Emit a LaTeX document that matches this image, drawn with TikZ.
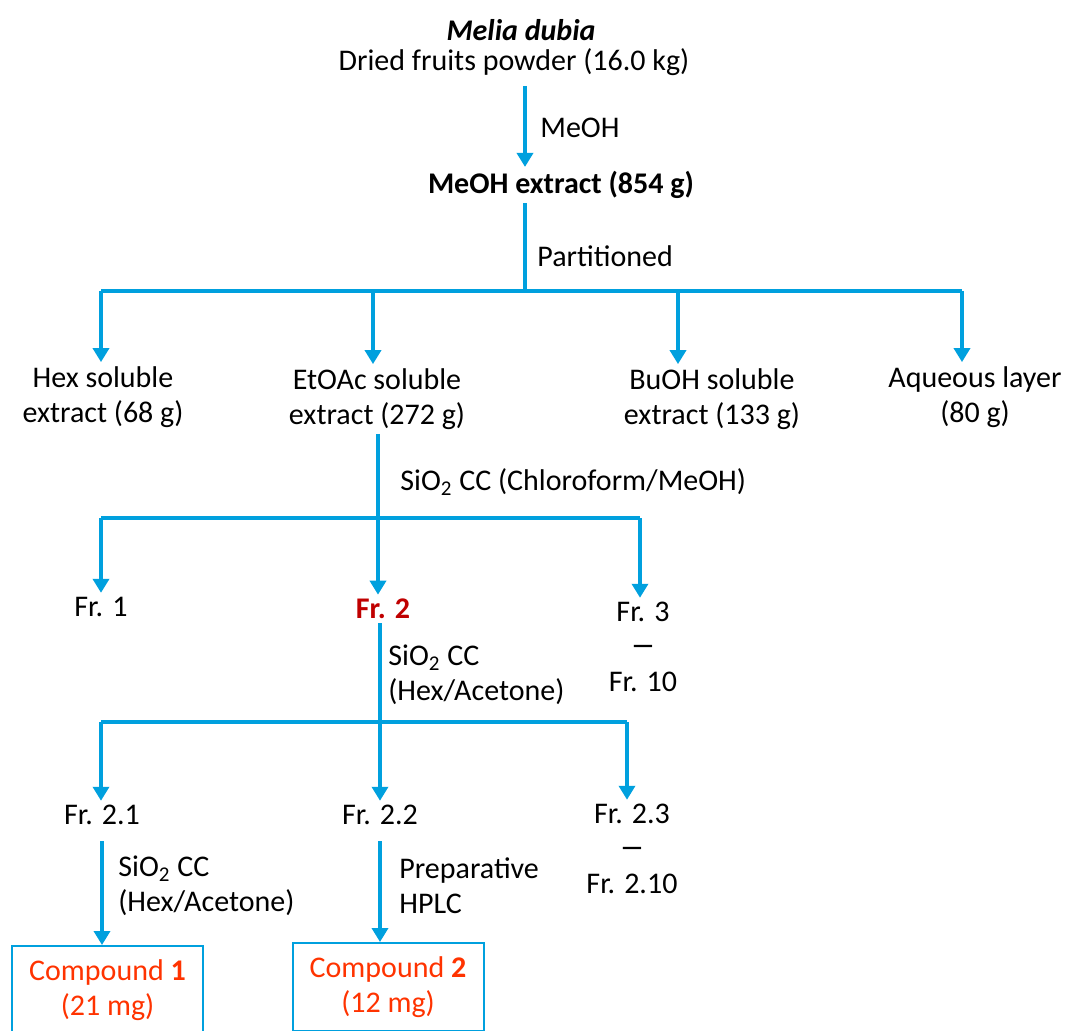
\documentclass[tikz,border=0pt]{standalone}
\usepackage{fontspec}
\setmainfont{Carlito}
\usetikzlibrary{arrows.meta}
\definecolor{flowblue}{RGB}{0,160,222}
\definecolor{frred}{RGB}{192,0,0}
\definecolor{cmpred}{RGB}{255,51,0}
\newcommand{\frdash}{\scalebox{1.7}[1.2]{\textendash}}
\begin{document}
\begin{tikzpicture}[x=0.5pt,y=-0.5pt,
  every node/.style={font=\fontsize{15}{17.5}\selectfont, inner sep=2pt, align=center},
  flowline/.style={draw=flowblue, line width=2pt},
  arr/.style={flowline, -{Triangle[width=8pt,length=7pt]}},
  lbl/.style={anchor=west, align=left},
  cmpbox/.style={draw=flowblue, line width=1pt, anchor=north, minimum width=95.5pt, minimum height=44pt, text=cmpred}]
  \useasboundingbox (0,0) rectangle (1067,1030);
  \clip (0,0) rectangle (1067,1030);

  \node (plant) at (521,30) {\textbf{\textit{Melia dubia}}};
  \node (powder) at (514,62) {Dried fruits powder (16.0 kg)};
  \node (mext) at (561,185) {\textbf{MeOH extract (854 g)}};
  \node (hex) at (103,397) {Hex soluble\\extract (68 g)};
  \node (etoac) at (377,399) {EtOAc soluble\\extract (272 g)};
  \node (buoh) at (712,399) {BuOH soluble\\extract (133 g)};
  \node (aq) at (975,397) {Aqueous layer\\(80 g)};
  \node (fr1) at (101,607) {Fr. 1};
  \node[text=frred] (fr2) at (383,609) {\textbf{Fr. 2}};
  \node (fr3) at (643,647) {Fr. 3\\\frdash\\Fr. 10};
  \node (fr21) at (102,815) {Fr. 2.1};
  \node (fr22) at (380,815) {Fr. 2.2};
  \node (fr23) at (632,849) {Fr. 2.3\\\frdash\\Fr. 2.10};
  \node[cmpbox] (cmp1) at (107.5,945) {Compound \textbf{1}\\(21 mg)};
  \node[cmpbox] (cmp2) at (388,942) {Compound \textbf{2}\\(12 mg)};

  \node[lbl] (meoh) at (536,128) {MeOH};
  \node[lbl] (part) at (533,256) {Partitioned};
  \node[lbl] (cc1) at (396,482) {SiO\textsubscript{2} CC (Chloroform/MeOH)};
  \node[lbl] (cc2) at (384,675) {SiO\textsubscript{2} CC\\(Hex/Acetone)};
  \node[lbl] (cc3) at (114,886) {SiO\textsubscript{2} CC\\(Hex/Acetone)};
  \node[lbl] (hplc) at (395,886) {Preparative\\HPLC};

  \coordinate (s0) at (525,291);
  \coordinate (h1) at (101,291);
  \coordinate (h2) at (373,291);
  \coordinate (h3) at (678,291);
  \coordinate (h4) at (962,291);
  \coordinate (s1) at (378,518);
  \coordinate (g1) at (101,518);
  \coordinate (g3) at (640,518);
  \coordinate (s2) at (380,722);
  \coordinate (k1) at (101,722);
  \coordinate (k3) at (627,722);

  \draw[arr, shorten <=3pt] (powder.south -| s0) -- (mext.north -| s0);
  \draw[flowline] (mext.south -| s0) -- (s0);
  \draw[flowline] (h1) -- (h4);
  \draw[arr] (h1) -- (hex.north -| h1);
  \draw[arr] (h2) -- (etoac.north -| h2);
  \draw[arr] (h3) -- (buoh.north -| h3);
  \draw[arr] (h4) -- (aq.north -| h4);

  \draw[flowline] (etoac.south -| s1) -- (s1);
  \draw[flowline] (g1) -- (g3);
  \draw[arr] (g1) -- (fr1.north -| g1);
  \draw[arr] (s1) -- (fr2.north -| s1);
  \draw[arr] (g3) -- (fr3.north -| g3);

  \draw[flowline] (fr2.south -| s2) -- (s2);
  \draw[flowline] (k1) -- (k3);
  \draw[arr] (k1) -- (fr21.north -| k1);
  \draw[arr] (s2) -- (fr22.north -| s2);
  \draw[arr] (k3) -- (fr23.north -| k3);

  \draw[arr, shorten <=6pt] (fr21) -- (cmp1.north -| fr21);
  \draw[arr, shorten <=6pt] (fr22) -- (cmp2.north -| fr22);
\end{tikzpicture}
\end{document}
